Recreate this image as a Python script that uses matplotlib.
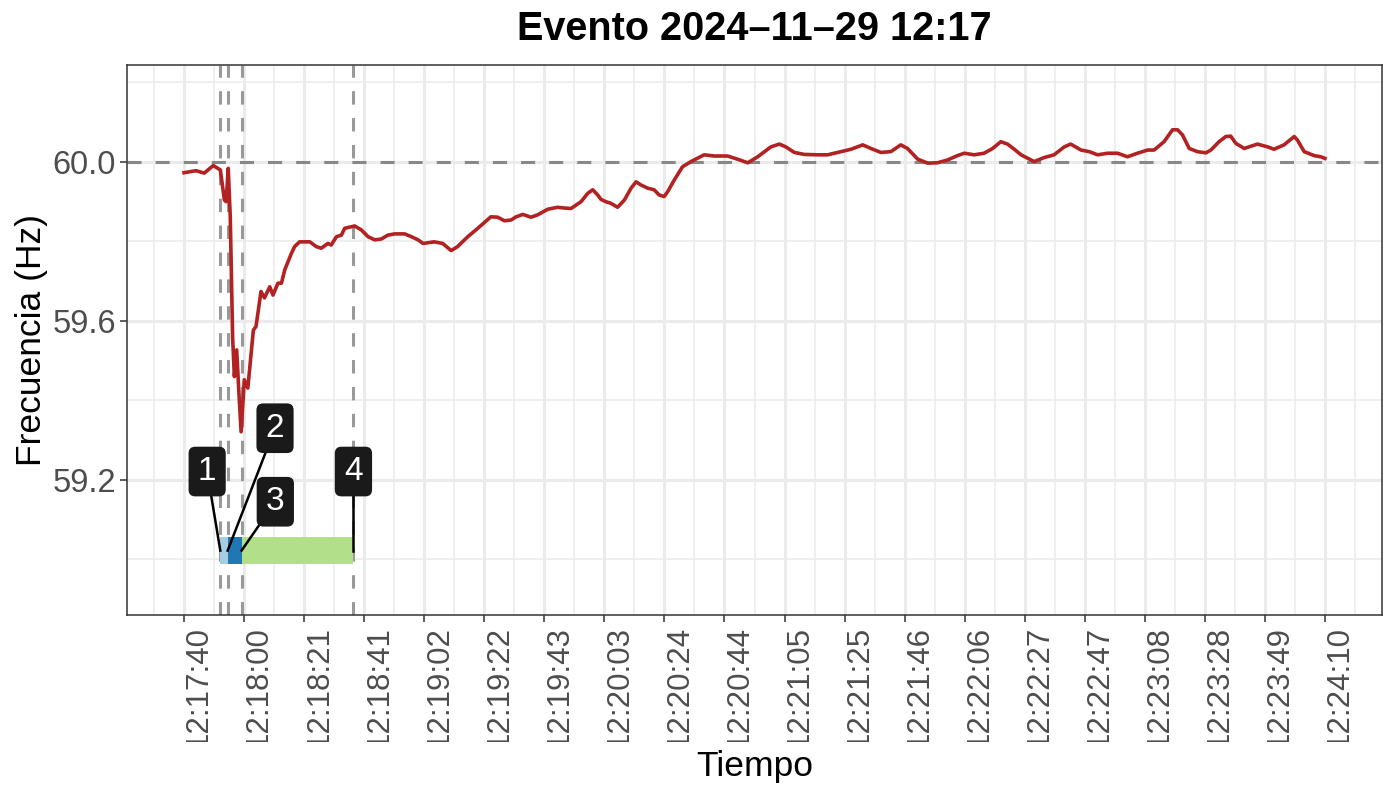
import numpy as np
import matplotlib
matplotlib.use('Agg')
import matplotlib.pyplot as plt
from matplotlib.transforms import Bbox

plt.rcParams['font.family'] = ['Liberation Sans', 'DejaVu Sans']

# tiempo en segundos desde 12:17:40, frecuencia en Hz
t_s = [0.0, 4.1, 6.9, 10.0, 12.4, 13.8, 14.4, 15.1, 15.8, 16.6, 17.2, 18.0, 18.7, 19.5,
       20.6, 21.8, 23.7, 24.6, 26.3, 27.5, 29.3, 30.4, 32.1, 33.3, 34.4, 36.7, 37.8,
       39.5, 43.0, 45.2, 46.9, 49.2, 50.3, 52.1, 53.8, 54.9, 58.3, 60.6, 62.9, 65.2,
       67.4, 69.7, 72.0, 75.4, 77.7, 80.0, 81.7, 85.5, 88.4, 91.3, 93.5, 97.0, 100.4,
       102.6, 104.9, 107.2, 109.5, 111.8, 113.5, 115.8, 118.6, 120.9, 124.3, 127.7,
       130.0, 132.3, 135.7, 138.0, 139.7, 141.4, 142.5, 144.2, 145.9, 148.2, 150.5,
       152.8, 154.5, 156.2, 158.5, 160.7, 162.4, 164.1, 165.3, 167.6, 170.4, 173.3,
       177.8, 181.2, 185.8, 189.2, 192.7, 196.1, 200.6, 203.5, 205.7, 208.6, 212.0,
       216.6, 220.0, 223.4, 228.0, 232.0, 234.8, 238.2, 241.6, 245.0, 247.3, 250.8,
       254.2, 257.6, 261.0, 264.4, 266.7, 270.1, 273.5, 276.4, 279.2, 281.5, 283.8,
       286.1, 290.6, 294.0, 297.4, 300.9, 303.1, 306.6, 309.4, 312.3, 315.7, 319.1,
       322.5, 325.9, 329.4, 331.6, 335.0, 337.9, 339.6, 341.3, 343.6, 346.4, 349.3,
       351.0, 353.8, 356.1, 357.8, 359.5, 362.4, 366.9, 370.4, 372.6, 376.0, 379.5,
       380.6, 382.9, 386.3, 388.6, 390.0]
f_hz = [59.973, 59.978, 59.972, 59.991, 59.980, 59.904, 59.900, 59.984, 59.862, 59.560,
        59.460, 59.527, 59.426, 59.321, 59.452, 59.431, 59.577, 59.586, 59.674, 59.658,
        59.686, 59.665, 59.695, 59.695, 59.728, 59.770, 59.787, 59.799, 59.799, 59.787,
        59.783, 59.795, 59.791, 59.812, 59.816, 59.833, 59.839, 59.829, 59.812, 59.804,
        59.806, 59.816, 59.819, 59.819, 59.812, 59.804, 59.795, 59.799, 59.795, 59.777,
        59.787, 59.812, 59.833, 59.847, 59.862, 59.861, 59.852, 59.854, 59.862, 59.868,
        59.861, 59.867, 59.881, 59.886, 59.884, 59.883, 59.900, 59.921, 59.930, 59.917,
        59.906, 59.900, 59.896, 59.886, 59.904, 59.934, 59.950, 59.942, 59.934, 59.930,
        59.917, 59.913, 59.925, 59.955, 59.988, 60.001, 60.018, 60.015, 60.015, 60.007,
        59.998, 60.013, 60.038, 60.045, 60.038, 60.024, 60.019, 60.018, 60.018, 60.024,
        60.032, 60.043, 60.034, 60.024, 60.026, 60.043, 60.034, 60.007, 59.997, 59.998,
        60.005, 60.016, 60.022, 60.018, 60.022, 60.034, 60.051, 60.045, 60.032, 60.018,
        60.001, 60.011, 60.018, 60.038, 60.045, 60.030, 60.026, 60.018, 60.022, 60.022,
        60.013, 60.022, 60.030, 60.030, 60.051, 60.081, 60.081, 60.068, 60.034, 60.026,
        60.023, 60.030, 60.051, 60.064, 60.065, 60.047, 60.034, 60.045, 60.038, 60.032,
        60.043, 60.064, 60.055, 60.026, 60.016, 60.013, 60.009]

tick_labels = ['12:17:40', '12:18:00', '12:18:21', '12:18:41', '12:19:02', '12:19:22',
               '12:19:43', '12:20:03', '12:20:24', '12:20:44', '12:21:05', '12:21:25',
               '12:21:46', '12:22:06', '12:22:27', '12:22:47', '12:23:08', '12:23:28',
               '12:23:49', '12:24:10']
y_ticks = [59.2, 59.6, 60.0]
y_minor = [59.0, 59.4, 59.8, 60.2]

# instantes de los eventos (s desde 12:17:40)
event_t = [12.4, 14.9, 19.65, 57.9]
seg_colors = ['#A6CEE3', '#1F78B4', '#B2DF8A']
bar_y = 59.022
bar_h = 0.068

label_txt = ['1', '2', '3', '4']
label_t = [7.9, 31.1, 31.2, 57.9]
label_f = [59.221, 59.330, 59.145, 59.221]

fig = plt.figure(figsize=(13.85, 7.89), dpi=100)
ax = fig.add_axes([127/1385, 1 - 615/789, (1382 - 127)/1385, (615 - 65)/789])

x_ticks = np.linspace(0, 390, len(tick_labels))
step = x_ticks[1] - x_ticks[0]
x_minor = np.concatenate([[x_ticks[0] - step/2], x_ticks + step/2])

ax.set_xlim(-19.5, 409.5)
ax.set_ylim(58.86, 60.244)

ax.set_xticks(x_ticks)
ax.set_xticks(x_minor, minor=True)
ax.set_yticks(y_ticks)
ax.set_yticks(y_minor, minor=True)
ax.set_xticklabels(tick_labels, rotation=90, ha='left', va='top')
ax.set_yticklabels([f'{v:.1f}' for v in y_ticks])

ax.grid(True, which='major', color='#EBEBEB', lw=2.2, zorder=0)
ax.grid(True, which='minor', color='#EBEBEB', lw=1.1, zorder=0)
ax.set_axisbelow(True)

ax.tick_params(which='major', length=5, width=1.1, color='#333333',
               labelsize=23.5, labelcolor='#4D4D4D', pad=3)
ax.tick_params(axis='x', labelsize=22.5)
ax.tick_params(which='minor', length=0)
for sp in ax.spines.values():
    sp.set_color('#333333')
    sp.set_linewidth(1.1)

ax.axhline(60.0, color='#888888', lw=2.2, ls=(0, (4.6, 4.6)), zorder=1)
for t in event_t:
    ax.axvline(t, color='#999999', lw=2.2, ls=(0, (4.4, 4.4)), zorder=1)

# barras de las etapas
for i in range(3):
    ax.barh(bar_y, event_t[i+1] - event_t[i], left=event_t[i], height=bar_h,
            color=seg_colors[i], zorder=2)

ax.plot(t_s, f_hz, color='#B22222', lw=2.6, zorder=3)

for i in range(4):
    ax.plot([label_t[i], event_t[i]], [label_f[i], bar_y], color='black', lw=1.8, zorder=4)
    ax.text(label_t[i], label_f[i], label_txt[i], fontsize=24, color='white',
            ha='center', va='center', zorder=5,
            bbox=dict(boxstyle='round,pad=0.28,rounding_size=0.2', fc='#1A1A1A', ec='none'))

ax.set_title('Evento 2024\u201311\u201329 12:17', fontsize=28.5, fontweight='bold', pad=18)
ax.set_xlabel('Tiempo', fontsize=25.5)
ax.set_ylabel('Frecuencia (Hz)', fontsize=25.5, labelpad=3)
ax.xaxis.set_label_coords(0.5, -0.245)

# las etiquetas del eje x quedan cortadas abajo
clip = Bbox.from_extents(0, 789 - 742, 1385, 789)
for lbl in ax.get_xticklabels():
    lbl.set_clip_on(True)
    lbl.set_clip_box(clip)

fig.savefig('out.png', dpi=100)
